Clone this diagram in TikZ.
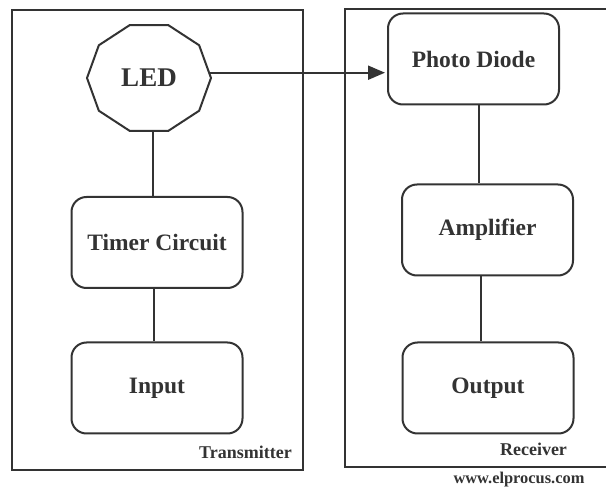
\documentclass[tikz,border=0pt]{standalone}
\usepackage{fontspec}
\setmainfont{Liberation Serif}
\usetikzlibrary{arrows.meta,positioning,calc}
\definecolor{linegray}{HTML}{333333}

\begin{document}
\begin{tikzpicture}[x=1pt, y=-1pt,
    block/.style={draw=linegray, line width=2pt, rounded corners=15pt, text=linegray, font=\bfseries\fontsize{23.5}{26}\selectfont, minimum width=171pt, minimum height=91pt, align=center},
    ledbox/.style={text=linegray, font=\bfseries\fontsize{27}{30}\selectfont, minimum width=124pt, minimum height=106pt, inner sep=0pt},
    frame/.style={draw=linegray, line width=2.2pt},
    link/.style={draw=linegray, line width=2pt},
    signal/.style={link, -{Triangle[length=17pt, width=14pt]}, shorten >=2pt},
    caption/.style={text=linegray, font=\bfseries\fontsize{18}{20}\selectfont, inner sep=0pt}
]
\useasboundingbox (0,0) rectangle (606,489);
% transmitter and receiver frames
\draw[frame] (12,10) rectangle (303,470);
\draw[frame] (606,9) -- (345,9) -- (345,467) -- (606,467);
\node[ledbox] (led)   at (149,78)    {LED};
\draw[link, shift={(led.center)}] (0:62 and 55.7) \foreach \a in {36,72,...,324} { -- (\a:62 and 55.7) } -- cycle;
\node[block]  (timer) at (157,242.5) {Timer Circuit};
\node[block]  (input) at (157,388)   {Input};
\node[block]  (pd)    at (473.5,59)  {Photo Diode};
\node[block]  (amp)   at (487.5,230) {Amplifier};
\node[block]  (out)   at (488,388)   {Output};
\node[caption] (tx)  at (245.5,452) {Transmitter};
\node[caption] (rx)  at (533.5,449) {Receiver};
\node[caption, font=\bfseries\fontsize{16.4}{18}\selectfont] (web) at (519,480) {www.elprocus.com};
\draw[link] ([xshift=4pt]led.south) -- ([xshift=4pt]led.south |- timer.north);
\draw[link] ([xshift=-3pt]timer.south) -- ([xshift=-3pt]timer.south |- input.north);
\draw[link] ([xshift=5.5pt]pd.south) -- ([xshift=5.5pt]pd.south |- amp.north);
\draw[link] ([xshift=-6.5pt]amp.south) -- ([xshift=-6.5pt]amp.south |- out.north);
\draw[signal] ([xshift=-2pt, yshift=5.3pt]led.east) -- ([yshift=5.3pt]led.east -| pd.west);
\end{tikzpicture}
\end{document}
